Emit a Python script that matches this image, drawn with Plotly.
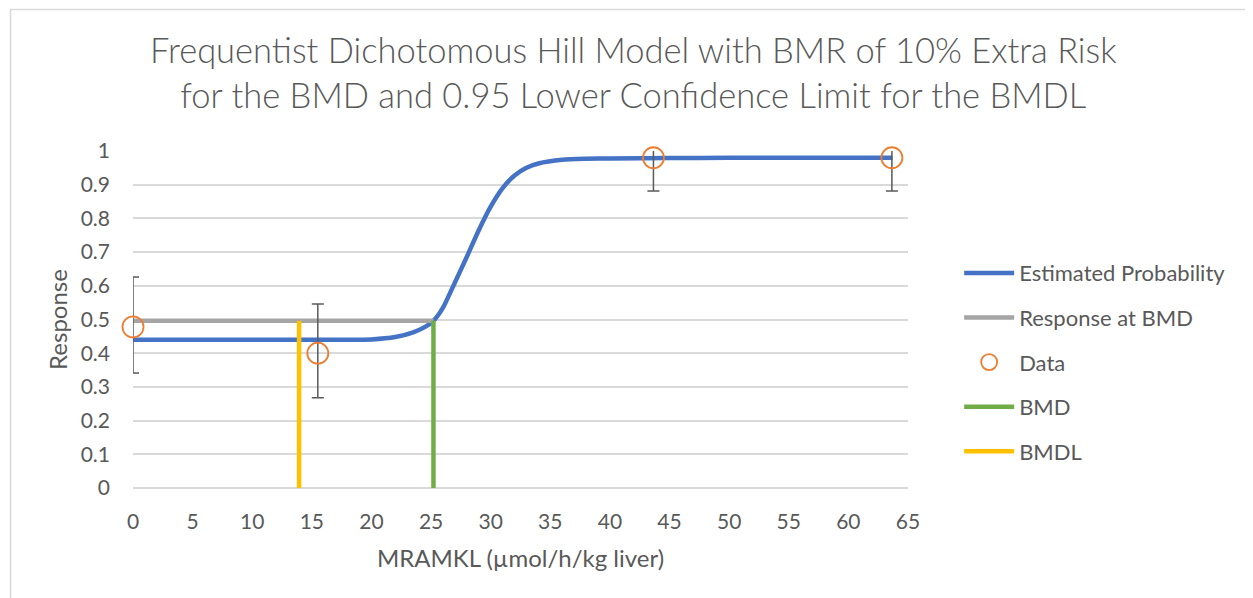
import plotly.graph_objects as go

# Fitted Hill curve
curve_x = [0, 5, 10, 15, 18, 20, 22, 23.5, 24.5, 25.2, 26, 27, 28, 29, 30, 31,
           32, 33, 34, 36, 38, 40, 45, 50, 55, 60, 63.7]
curve_y = [0.44, 0.44, 0.44, 0.44, 0.44, 0.441, 0.448, 0.462, 0.478, 0.496,
           0.535, 0.61, 0.686, 0.765, 0.835, 0.89, 0.927, 0.95, 0.963, 0.974,
           0.977, 0.978, 0.979, 0.98, 0.98, 0.98, 0.98]

# Observed data with error bars
dose = [0, 15.5, 43.65, 63.65]
response = [0.478, 0.40, 0.98, 0.98]
err_plus = [0.148, 0.146, 0.03, 0.03]
err_minus = [0.137, 0.132, 0.099, 0.099]

bmd = 25.2
bmdl = 13.93
bmr_response = 0.496

x_ticks = list(range(0, 70, 5))
y_ticks = [0, 0.1, 0.2, 0.3, 0.4, 0.5, 0.6, 0.7, 0.8, 0.9, 1]

TITLE = ("Frequentist Dichotomous Hill Model with BMR of 10% Extra Risk"
         "<br>for the BMD and 0.95 Lower Confidence Limit for the BMDL")

BLUE = "#4472C4"
GRAY = "#A5A5A5"
ORANGE = "#ED7D31"
GREEN = "#70AD47"
YELLOW = "#FFC000"
TEXT = "#595959"
GRID = "#D9D9D9"
FONT = "Lato"

fig = go.Figure()

fig.add_trace(go.Scatter(
    x=curve_x, y=curve_y, mode="lines", name="Estimated Probability",
    line=dict(color=BLUE, width=4.5, shape="spline", smoothing=0.6),
    legendgroup="a",
))
fig.add_trace(go.Scatter(
    x=[0, bmd], y=[bmr_response, bmr_response], mode="lines",
    name="Response at BMD", line=dict(color=GRAY, width=4.5),
    legendgroup="b",
))
# error bars alone (clipped at the plot edges like the original)
fig.add_trace(go.Scatter(
    x=dose, y=response, mode="markers", showlegend=False,
    marker=dict(size=1, color="rgba(0,0,0,0)"),
    error_y=dict(type="data", symmetric=False, array=err_plus,
                 arrayminus=err_minus, color=TEXT, thickness=1.5, width=6),
    cliponaxis=True, hoverinfo="skip",
))
fig.add_trace(go.Scatter(
    x=dose, y=response, mode="markers", name="Data",
    marker=dict(symbol="circle-open", size=21, color=ORANGE,
                line=dict(width=1.8, color=ORANGE)),
    cliponaxis=False, legendgroup="c",
))
fig.add_trace(go.Scatter(
    x=[bmd, bmd], y=[0, bmr_response], mode="lines", name="BMD",
    line=dict(color=GREEN, width=4.5), legendgroup="d",
))
fig.add_trace(go.Scatter(
    x=[bmdl, bmdl], y=[0, bmr_response], mode="lines", name="BMDL",
    line=dict(color=YELLOW, width=4.5), legendgroup="e",
))

# chart-area border (only left and top edges are inside the capture)
fig.add_shape(type="path", xref="paper", yref="paper",
              path="M -0.158 -0.4 L -0.158 1.42 L 1.6 1.42",
              line=dict(color=GRID, width=1.5))

fig.add_annotation(text=TITLE, xref="paper", yref="paper", x=0.646,
                   y=1.234, xanchor="center", yanchor="middle",
                   showarrow=False,
                   font=dict(family=FONT, size=34.5, color=TEXT, weight=300))

fig.update_layout(
    width=1245, height=590,
    margin=dict(l=125, r=345, t=143, b=110),
    paper_bgcolor="white", plot_bgcolor="white",
    font=dict(family=FONT, color=TEXT, size=21),
    xaxis=dict(range=[0, 65], tickvals=x_ticks, showgrid=False,
               zeroline=False, showline=False, ticks="",
               ticklabelstandoff=19,
               title=dict(text="MRAMKL (µmol/h/kg liver)", standoff=18,
                          font=dict(size=24))),
    yaxis=dict(range=[0, 1], tickvals=y_ticks, showgrid=True,
               gridcolor=GRID, gridwidth=1.5, zeroline=True,
               zerolinecolor=GRID, zerolinewidth=1.5, ticks="",
               ticklabelstandoff=22,
               title=dict(text="Response", standoff=6,
                          font=dict(size=24))),
    legend=dict(x=1.066, xanchor="left", y=0.70, yanchor="top",
                font=dict(size=22, color=TEXT), traceorder="grouped",
                tracegroupgap=13, itemwidth=50,
                bgcolor="rgba(0,0,0,0)"),
    showlegend=True,
)

fig.write_html("out.html")
